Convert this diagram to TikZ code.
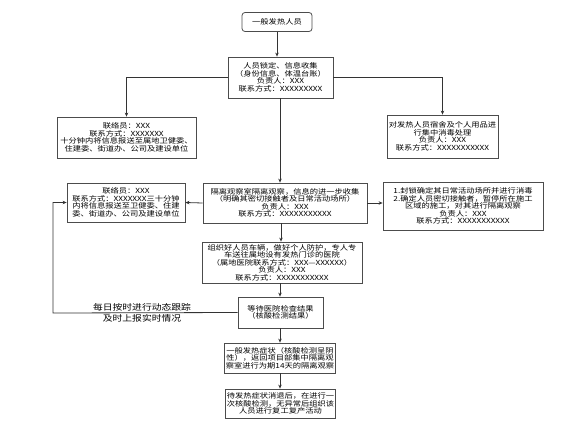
\documentclass[tikz,border=0pt]{standalone}
\usepackage{fontspec}
\setmainfont{Noto Sans CJK SC}[FakeStretch=1.18]
\usepackage{tikz}
\usetikzlibrary{arrows.meta}

\begin{document}
\begin{tikzpicture}[x=1pt, y=-1pt, line width=0.8pt,
    bloco/.style={draw=black!70, fill=white, align=center, inner sep=1pt,
        font=\fontsize{7}{7.5}\selectfont},
    seta/.style={draw=black!80, -{Stealth[length=4pt,width=3.5pt]}}]
    \useasboundingbox (0,0) rectangle (569,436);
    % fluxo principal
    \node[bloco, rounded corners=3pt, minimum width=70pt, minimum height=19pt] (inicio) at (277,22) {一般发热人员};
    \node[bloco, minimum width=105pt, minimum height=41pt] (coleta) at (280.5,77.5)
        {人员锁定、信息收集\\（身份信息、体温台账）\\负责人：XXX\\联系方式：XXXXXXXXX};
    \node[bloco, minimum width=139pt, minimum height=41pt] (contato) at (126.5,137.5)
        {联络员：XXX\\联系方式：XXXXXXX\\十分钟内将信息报送至属地卫健委、\\住建委、街道办、公司及建设单位};
    \node[bloco, minimum width=111pt, minimum height=43pt] (desinf) at (442.5,136.5)
        {对发热人员宿舍及个人用品进\\行集中消毒处理\\负责人：XXX\\联系方式：XXXXXXXXXXX};
    \node[bloco, minimum width=164pt, minimum height=40pt] (isola) at (285,203)
        {隔离观察室隔离观察，信息的进一步收集\\（明确其密切接触者及日常活动场所）\\负责人：XXX\\联系方式：XXXXXXXXXXX};
    \node[bloco, minimum width=118pt, minimum height=39pt] (aviso) at (126,202.5)
        {联络员：XXX\\联系方式：XXXXXXX三十分钟\\内将信息报送至卫健委、住建\\委、街道办、公司及建设单位};
    \node[bloco, minimum width=160pt, minimum height=48pt] (bloqueio) at (463,206)
        {1.封锁确定其日常活动场所并进行消毒\\2.确定人员密切接触者，暂停所在施工\\区域的施工，对其进行隔离观察\\负责人：XXX\\联系方式：XXXXXXXXXXX};
    \node[bloco, minimum width=160pt, minimum height=41pt] (transporte) at (282,262.5)
        {组织好人员车辆，做好个人防护，专人专\\车送往属地设有发热门诊的医院\\（属地医院联系方式：XXX—XXXXXX）\\负责人：XXX\\联系方式：XXXXXXXXXXX};
    \node[bloco, minimum width=85pt, minimum height=31pt] (espera) at (280.5,312.5)
        {等待医院检查结果\\（核酸检测结果）};
    \node[bloco, minimum width=110pt, minimum height=30pt] (resultado) at (280,358)
        {一般发热症状（核酸检测呈阴\\性），返回项目部集中隔离观\\察室进行为期14天的隔离观察};
    \node[bloco, minimum width=109pt, minimum height=29pt] (retorno) at (280.5,403.5)
        {待发热症状消退后，在进行一\\次核酸检测，无异常后组织该\\人员进行复工复产活动};
    \coordinate (canto) at (53,313);

    \draw[seta] (inicio.south) -- (inicio.south |- coleta.north);
    \draw[seta] (coleta.west) -| (contato.north);
    \draw[seta] (coleta.east) -| (desinf.north);
    \draw[seta] (coleta.south -| 280,0) -- (isola.north -| 280,0);
    \draw[seta] (isola.west) -- (aviso.east);
    \draw[seta] (isola.east) -- (isola.east -| bloqueio.west);
    \draw[seta] (isola.south -| 281,0) -- (transporte.north -| 281,0);
    \draw[seta] (transporte.south -| 280,0) -- (espera.north -| 280,0);
    \draw[seta] (espera.south -| 280,0) -- (resultado.north -| 280,0);
    \draw[seta] (resultado.south -| 280,0) -- (retorno.north -| 280,0);
    % acompanhamento diario
    \draw[seta] (espera.west) -- (canto) |- (aviso.west);
    \node[align=center, font=\fontsize{8.3}{11}\selectfont] (rotulo) at (142,313)
        {每日按时进行动态跟踪\\及时上报实时情况};
\end{tikzpicture}
\end{document}
